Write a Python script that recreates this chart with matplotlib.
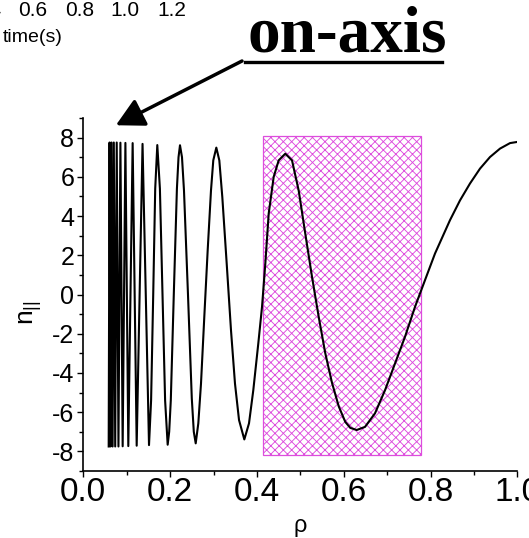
import numpy as np
import matplotlib
matplotlib.use('Agg')
import matplotlib.pyplot as plt
from matplotlib.patches import Rectangle
from matplotlib.lines import Line2D
from matplotlib.ticker import MultipleLocator

plt.rcParams['font.family'] = ['Liberation Sans', 'DejaVu Sans']
plt.rcParams['mathtext.fontset'] = 'custom'
plt.rcParams['mathtext.rm'] = 'Liberation Sans'
plt.rcParams['mathtext.it'] = 'Liberation Sans'
plt.rcParams['hatch.linewidth'] = 0.65
plt.rcParams['axes.unicode_minus'] = False

#=================================================================================#

# n_parallel along the ray, vs normalised radius rho
rho = [0.0585, 0.0605, 0.0626, 0.0650, 0.0675, 0.0703, 0.0735, 0.0770, 0.0810,
       0.0855, 0.0907, 0.0970, 0.1037, 0.1137, 0.1230, 0.1365, 0.1514,
       0.1562, 0.1611, 0.1657, 0.1705, 0.1765, 0.1825, 0.1885, 0.1944,
       0.1979, 0.2016, 0.2085, 0.2157, 0.2194, 0.2228, 0.2274, 0.2320,
       0.2412, 0.2500, 0.2546, 0.2590, 0.2650, 0.2712, 0.2788, 0.2866,
       0.2942, 0.2995, 0.3065, 0.3134, 0.3203, 0.3304, 0.3403, 0.3495,
       0.3588, 0.3710, 0.3818, 0.3917, 0.4032, 0.4118, 0.4194, 0.4272,
       0.4387, 0.4502, 0.4654, 0.4809, 0.4963, 0.5115, 0.5270, 0.5424,
       0.5576, 0.5730, 0.5885, 0.6037, 0.6152, 0.6300, 0.6491, 0.6721,
       0.6952, 0.7182, 0.7412, 0.7643, 0.7873, 0.8104, 0.8449, 0.8680,
       0.8910, 0.9141, 0.9371, 0.9602, 0.9832, 1.0]
n_par = [-7.75, 7.75, -7.75, 7.75, -7.75, 7.75, -7.75, 7.75, -7.75,
         7.74, -7.74, 7.73, -7.73, 7.72, -7.71, 7.68, -7.68,
         -5.4, 0.0, 5.4, 7.62, 5.4, 0.0, -5.4, -7.66,
         -7.0, -5.4, 0.0, 5.4, 7.0, 7.61, 7.0, 5.3,
         0.0, -5.3, -7.0, -7.59, -6.57, -4.54, -1.14, 2.26,
         5.3, 6.84, 7.49, 6.84, 4.97, 1.58, -1.82, -4.54,
         -6.4, -7.39, -6.57, -4.88, -2.5, -0.63, 1.58, 4.13,
         6.0, 6.84, 7.18, 6.84, 5.3, 3.1, 0.9, -1.14,
         -3.0, -4.5, -5.7, -6.5, -6.8, -6.91, -6.75, -6.06,
         -4.88, -3.52, -2.16, -0.63, 0.73, 2.09, 3.79, 4.8,
         5.66, 6.42, 7.01, 7.44, 7.72, 7.78]

# absorption region
band_rho = [0.414, 0.778]
band_n = [-8.2, 8.1]

# arrow tip (on-axis side)
tip_rho, tip_n = 0.075, 8.63

x_ticks = [0.0, 0.2, 0.4, 0.6, 0.8, 1.0]
x_ticklabels = ['0.0', '0.2', '0.4', '0.6', '0.8', '1.0']

# time axis of the neighbouring panel
time_ticks = ['0.4', '0.6', '0.8', '1.0', '1.2']
time_x = [-13, 33, 80, 125, 172]

#=================================================================================#

fig = plt.figure(figsize=(5.29, 5.38), dpi=100)
ax = fig.add_axes([83.3/529, 67/538, 434/529, 353/538])

ax.add_patch(Rectangle((band_rho[0], band_n[0]), band_rho[1]-band_rho[0], band_n[1]-band_n[0],
                       facecolor='white', edgecolor='#dd4ddd', hatch='xxxx', lw=0.9, zorder=1))
ax.plot(rho, n_par, color='k', lw=1.5, zorder=2)

ax.set_xlim(0, 1.0)
ax.set_ylim(-9, 9)
ax.set_xticks(x_ticks, x_ticklabels, fontsize=24,
              fontfamily=['Liberation Sans Narrow', 'Liberation Sans'])
ax.xaxis.set_minor_locator(MultipleLocator(0.1))
ax.yaxis.set_major_locator(MultipleLocator(2))
ax.yaxis.set_minor_locator(MultipleLocator(1))
ax.spines['top'].set_visible(False)
ax.spines['right'].set_visible(False)
for s in ['left', 'bottom']:
    ax.spines[s].set_linewidth(1.2)
ax.tick_params(which='major', direction='out', length=4.5, width=1.0)
ax.tick_params(which='minor', direction='out', length=2.8, width=1.0)
ax.tick_params(axis='y', labelsize=18, pad=2)
ax.tick_params(axis='x', pad=0)

ax.set_xlabel(r'$\rho$', fontsize=17, labelpad=6)
ax.set_ylabel(r'$\mathregular{n_{||}}$', fontsize=19)
ax.yaxis.set_label_coords(-0.09, 0.45)

#=================================================================================#

ax.annotate('', xy=(tip_rho, tip_n), xycoords='data',
            xytext=(242, 538-61), textcoords='figure pixels',
            annotation_clip=False,
            arrowprops=dict(arrowstyle='-|>,head_length=1.7,head_width=0.9',
                            mutation_scale=10, lw=2.5, color='k',
                            shrinkA=0, shrinkB=0))

fig.text(247/529, 1-52/538, 'on-axis', fontsize=47, weight='bold',
         family='Liberation Serif', ha='left', va='baseline')
fig.add_artist(Line2D([245/529, 442/529], [1-62/538, 1-62/538], color='k', lw=2.4))

for t, x in zip(time_ticks, time_x):
    fig.text(x/529, 1-11/538, t, fontsize=15, ha='center', va='center')
fig.text(3/529, 1-38/538, 'time(s)', fontsize=14, ha='left', va='center')

fig.savefig('out.png', dpi=100)
